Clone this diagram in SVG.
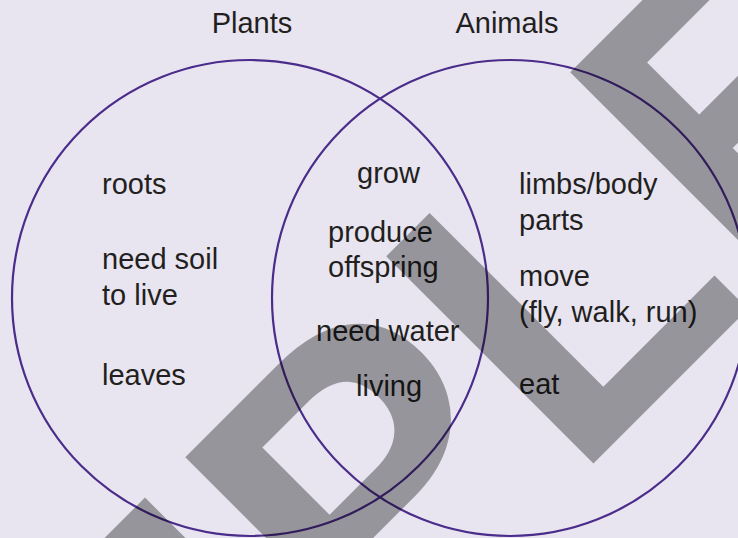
<svg xmlns="http://www.w3.org/2000/svg" width="738" height="538" viewBox="0 0 738 538">
<style>
.bg{fill:#E8E5F0}
.ring{fill:none;stroke:#4A2C8A;stroke-width:2.2}
.t{font-family:"Liberation Sans",Arial,Helvetica,sans-serif;font-size:29px;fill:#231F20}
.wm{font-family:"Liberation Sans",Arial,Helvetica,sans-serif;font-weight:bold;font-size:426px;fill:#000;fill-opacity:0.35}
</style>
<rect class="bg" x="0" y="0" width="738" height="538"/>
<g id="plants">
<circle class="ring" cx="250" cy="298" r="238"/>
<text class="t" x="252" y="33" text-anchor="middle">Plants</text>
<text class="t" x="102" y="194">roots</text>
<text class="t" x="102" y="268.5">need soil</text>
<text class="t" x="102" y="304.5">to live</text>
<text class="t" x="102" y="385">leaves</text>
</g>
<g id="animals">
<circle class="ring" cx="510" cy="298" r="238"/>
<text class="t" x="507" y="33" text-anchor="middle">Animals</text>
<text class="t" x="519" y="193.5">limbs/body</text>
<text class="t" x="519" y="229.5">parts</text>
<text class="t" x="519" y="286">move</text>
<text class="t" x="519" y="322">(fly, walk, run)</text>
<text class="t" x="519" y="393.5">eat</text>
</g>
<g id="both">
<text class="t" x="357" y="183">grow</text>
<text class="t" x="328" y="242">produce</text>
<text class="t" x="328" y="277">offspring</text>
<text class="t" x="316" y="341">need water</text>
<text class="t" x="356" y="396">living</text>
</g>
<g id="connectors"></g>
<g id="watermark">
<text class="wm" transform="translate(-297,1354) rotate(-45)" x="0" y="0">SAMPLE</text>
</g>
</svg>
